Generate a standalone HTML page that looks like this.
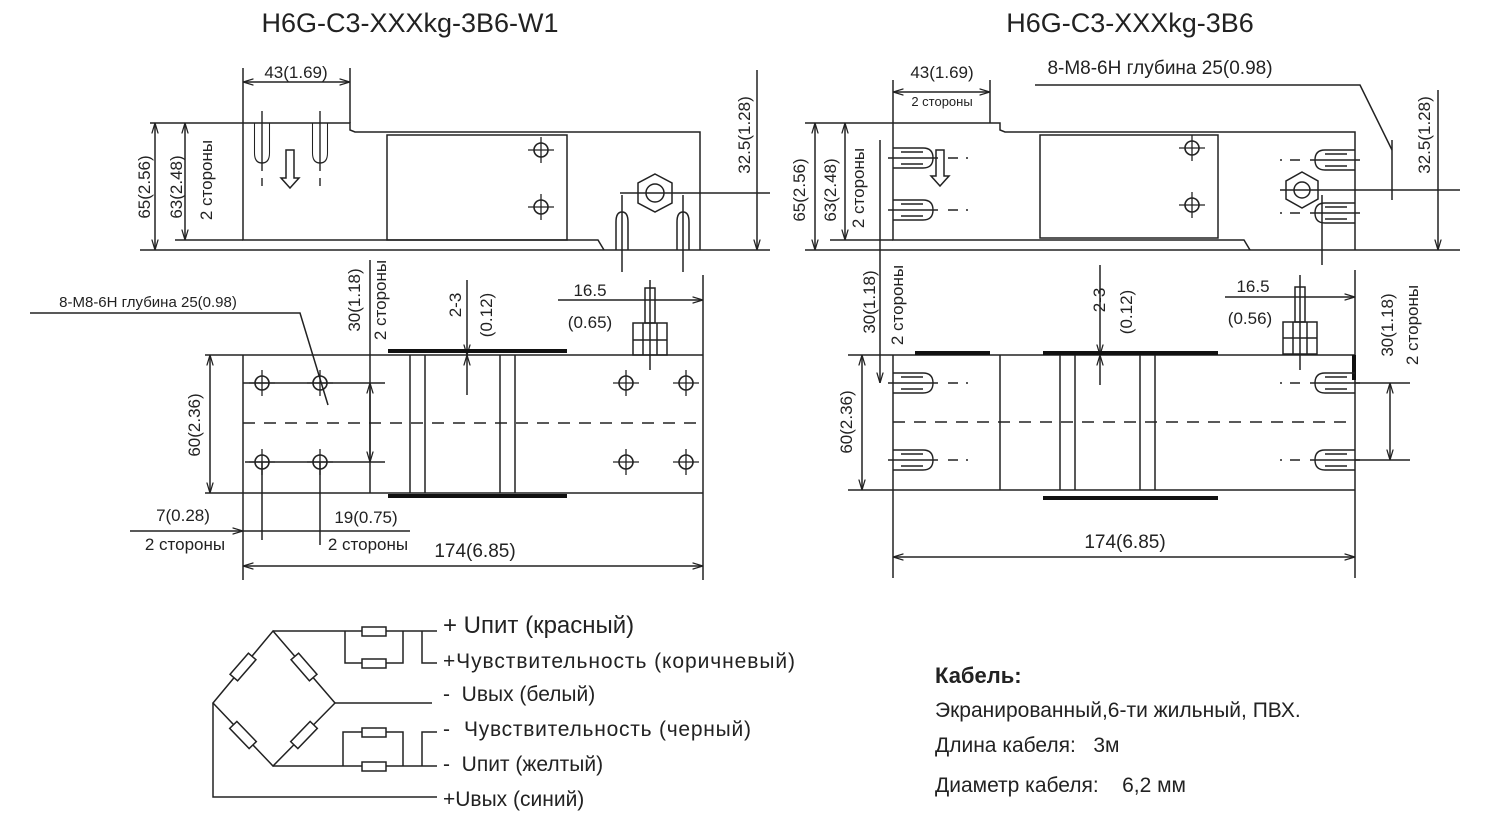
<!DOCTYPE html>
<html><head><meta charset="utf-8"><style>
html,body{margin:0;padding:0;background:#fff;}
svg{display:block;font-family:"Liberation Sans",sans-serif;}
text{white-space:pre;}
</style></head><body>
<svg width="1498" height="824" viewBox="0 0 1498 824" xmlns="http://www.w3.org/2000/svg" xml:space="preserve">
<defs>
<marker id="a" viewBox="0 0 10 10" refX="10" refY="5" markerWidth="7" markerHeight="7" orient="auto-start-reverse"><path d="M0,2 L10,5 L0,8" fill="none" stroke="#222" stroke-width="1.2"/></marker>
<g id="hole"><circle r="7" fill="none" stroke="#222" stroke-width="1.6"/><line x1="-13" y1="0" x2="13" y2="0" stroke="#222" stroke-width="1.3"/><line x1="0" y1="-13" x2="0" y2="13" stroke="#222" stroke-width="1.3"/></g>
<g id="boltH" fill="none" stroke="#222" stroke-width="1.4"><path d="M0,-10 H30 Q40,-10 40,0 Q40,10 30,10 H0"/><line x1="8" y1="-6" x2="30" y2="-6"/><line x1="8" y1="6" x2="30" y2="6"/><line x1="-5" y1="0" x2="45" y2="0"/><line x1="55" y1="0" x2="75" y2="0" stroke-dasharray="10 8"/></g>
<g id="boltV" fill="none" stroke="#222" stroke-width="1.4"><path d="M-10,0 V30 Q-10,40 0,40 Q10,40 10,30 V0" transform="scale(0.75,1)"/><line x1="0" y1="-12" x2="0" y2="48"/><line x1="0" y1="55" x2="0" y2="70" stroke-dasharray="8 8"/></g>
</defs>
<g fill="#222" font-size="27"><text x="410" y="32" text-anchor="middle">H6G-C3-XXXkg-3B6-W1</text><text x="1130" y="32" text-anchor="middle">H6G-C3-XXXkg-3B6</text></g>

<g fill="none" stroke="#222" stroke-width="1.5">
<path d="M150,123 H350 V130 L355,132 H700 V250"/>
<line x1="140" y1="250" x2="770" y2="250"/>
<path d="M243,123 V240 H598 L604,250"/>
<line x1="175" y1="240" x2="243" y2="240"/>
<rect x="387" y="135" width="180" height="105"/>
<line x1="243" y1="68" x2="243" y2="123"/><line x1="350" y1="68" x2="350" y2="123"/>
<line x1="243" y1="82" x2="350" y2="82" marker-start="url(#a)" marker-end="url(#a)"/>
<line x1="155" y1="123" x2="155" y2="250" marker-start="url(#a)" marker-end="url(#a)"/>
<line x1="185" y1="123" x2="185" y2="240" marker-start="url(#a)" marker-end="url(#a)"/>
<line x1="757" y1="70" x2="757" y2="250" marker-end="url(#a)"/>
<line x1="620" y1="193" x2="770" y2="193"/>
<polygon points="655,174 672,183 672,203 655,212 638,203 638,183"/><circle cx="655" cy="193" r="9"/>
<path d="M286,150 V178 H281 L290,188 L299,178 H294 V150 Z"/>
<line x1="622" y1="195" x2="622" y2="272"/><line x1="683" y1="195" x2="683" y2="272"/>
<path d="M616,250 V222 Q616,212 622,212 Q628,212 628,222 V250"/><path d="M677,250 V222 Q677,212 683,212 Q689,212 689,222 V250"/>
</g>
<use href="#boltV" x="262" y="123"/><use href="#boltV" x="320" y="123"/>
<use href="#hole" x="541" y="150"/><use href="#hole" x="541" y="207"/>

<g fill="none" stroke="#222" stroke-width="1.5">
<line x1="205" y1="355" x2="703" y2="355"/><line x1="205" y1="493" x2="703" y2="493"/>
<line x1="243" y1="355" x2="243" y2="580"/><line x1="703" y1="275" x2="703" y2="580"/>
<line x1="370" y1="260" x2="370" y2="493"/>
<line x1="410" y1="355" x2="410" y2="493"/><line x1="425" y1="355" x2="425" y2="493"/>
<line x1="500" y1="355" x2="500" y2="493"/><line x1="515" y1="355" x2="515" y2="493"/>
<line x1="243" y1="423" x2="703" y2="423" stroke-dasharray="12 9"/>
<line x1="243" y1="383" x2="385" y2="383"/><line x1="245" y1="462" x2="385" y2="462"/>
<line x1="370" y1="383" x2="370" y2="462" marker-start="url(#a)" marker-end="url(#a)"/>
<line x1="210" y1="355" x2="210" y2="493" marker-start="url(#a)" marker-end="url(#a)"/>
<line x1="467" y1="280" x2="467" y2="355" marker-end="url(#a)"/><line x1="467" y1="395" x2="467" y2="355" marker-end="url(#a)"/>
<line x1="558" y1="300" x2="703" y2="300" marker-end="url(#a)"/>
<line x1="650" y1="280" x2="650" y2="370"/>
<rect x="645" y="288" width="10" height="35"/><rect x="633" y="323" width="34" height="32"/><line x1="633" y1="340" x2="667" y2="340"/><line x1="643" y1="323" x2="643" y2="355"/><line x1="657" y1="323" x2="657" y2="355"/>
<line x1="262" y1="462" x2="262" y2="540"/><line x1="320" y1="462" x2="320" y2="545"/>
<line x1="130" y1="531" x2="243" y2="531" marker-end="url(#a)"/>
<line x1="243" y1="531" x2="410" y2="531"/>
<line x1="243" y1="566" x2="703" y2="566" marker-start="url(#a)" marker-end="url(#a)"/>
<path d="M30,313 H300 L328,405"/>
</g>
<g stroke="#111" stroke-width="4"><line x1="388" y1="351" x2="567" y2="351"/><line x1="388" y1="496" x2="567" y2="496"/></g>
<use href="#hole" x="262" y="383"/><use href="#hole" x="320" y="383"/><use href="#hole" x="262" y="462"/><use href="#hole" x="320" y="462"/>
<use href="#hole" x="626" y="383"/><use href="#hole" x="686" y="383"/><use href="#hole" x="626" y="462"/><use href="#hole" x="686" y="462"/>

<g fill="none" stroke="#222" stroke-width="1.5">
<path d="M805,123 H1000 V130 L1005,132 H1355 V250"/>
<line x1="805" y1="250" x2="1460" y2="250"/>
<path d="M893,123 V240 H1244 L1250,250"/>
<line x1="830" y1="240" x2="893" y2="240"/>
<rect x="1040" y="135" width="178" height="103"/>
<line x1="893" y1="80" x2="893" y2="123"/><line x1="990" y1="80" x2="990" y2="123"/>
<line x1="893" y1="92" x2="990" y2="92" marker-start="url(#a)" marker-end="url(#a)"/>
<line x1="815" y1="123" x2="815" y2="250" marker-start="url(#a)" marker-end="url(#a)"/>
<line x1="845" y1="123" x2="845" y2="240" marker-start="url(#a)" marker-end="url(#a)"/>
<line x1="1438" y1="90" x2="1438" y2="250" marker-end="url(#a)"/>
<line x1="1280" y1="190" x2="1460" y2="190"/>
<polygon points="1302,172 1318,181 1318,199 1302,208 1286,199 1286,181"/><circle cx="1302" cy="190" r="8"/>
<path d="M936,150 V176 H931 L940,186 L949,176 H944 V150 Z"/>
<path d="M1035,85 H1360 L1392,150"/>
<line x1="1392" y1="140" x2="1392" y2="200"/>
<line x1="1322" y1="195" x2="1322" y2="265"/>
<line x1="880" y1="140" x2="880" y2="383" marker-end="url(#a)"/>
</g>
<use href="#boltH" x="893" y="158"/><use href="#boltH" x="893" y="210"/>
<use href="#boltH" x="1355" y="160" transform="translate(2710,0) scale(-1,1)"/>
<use href="#boltH" x="1355" y="213" transform="translate(2710,0) scale(-1,1)"/>
<use href="#hole" x="1192" y="148"/><use href="#hole" x="1192" y="205"/>

<g fill="none" stroke="#222" stroke-width="1.5">
<line x1="848" y1="355" x2="1355" y2="355"/><line x1="848" y1="490" x2="1355" y2="490"/>
<line x1="893" y1="355" x2="893" y2="578"/><line x1="1355" y1="270" x2="1355" y2="578"/>
<line x1="1000" y1="355" x2="1000" y2="490"/>
<line x1="1060" y1="355" x2="1060" y2="490"/><line x1="1075" y1="355" x2="1075" y2="490"/>
<line x1="1140" y1="355" x2="1140" y2="490"/><line x1="1155" y1="355" x2="1155" y2="490"/>
<line x1="893" y1="422" x2="1355" y2="422" stroke-dasharray="12 9"/>
<line x1="862" y1="355" x2="862" y2="490" marker-start="url(#a)" marker-end="url(#a)"/>
<line x1="1100" y1="265" x2="1100" y2="355" marker-end="url(#a)"/><line x1="1100" y1="385" x2="1100" y2="355" marker-end="url(#a)"/>
<line x1="1225" y1="297" x2="1355" y2="297" marker-end="url(#a)"/>
<line x1="1300" y1="275" x2="1300" y2="370"/>
<rect x="1295" y="287" width="10" height="35"/><rect x="1283" y="322" width="34" height="32"/><line x1="1283" y1="338" x2="1317" y2="338"/><line x1="1293" y1="322" x2="1293" y2="354"/><line x1="1307" y1="322" x2="1307" y2="354"/>
<line x1="1390" y1="383" x2="1390" y2="460" marker-start="url(#a)" marker-end="url(#a)"/>
<line x1="1355" y1="383" x2="1410" y2="383"/><line x1="1355" y1="460" x2="1410" y2="460"/>
<line x1="893" y1="557" x2="1355" y2="557" marker-start="url(#a)" marker-end="url(#a)"/>
</g>
<g stroke="#111" stroke-width="4"><line x1="915" y1="353" x2="990" y2="353"/><line x1="1043" y1="353" x2="1218" y2="353"/><line x1="1043" y1="498" x2="1218" y2="498"/><line x1="1354" y1="355" x2="1354" y2="380"/></g>
<use href="#boltH" x="893" y="383"/><use href="#boltH" x="893" y="460"/>
<use href="#boltH" x="1355" y="383" transform="translate(2710,0) scale(-1,1)"/>
<use href="#boltH" x="1355" y="460" transform="translate(2710,0) scale(-1,1)"/>

<g fill="#222" font-size="17">
<text x="296" y="78" text-anchor="middle">43(1.69)</text>
<text x="942" y="78" text-anchor="middle">43(1.69)</text>
<text x="942" y="106" text-anchor="middle" font-size="13">2 стороны</text>
<text x="1160" y="74" text-anchor="middle" font-size="19">8-M8-6H глубина 25(0.98)</text>
<text x="148" y="307" text-anchor="middle" font-size="15">8-M8-6H глубина 25(0.98)</text>
<text x="590" y="296" text-anchor="middle">16.5</text><text x="590" y="328" text-anchor="middle">(0.65)</text>
<text x="1253" y="292" text-anchor="middle">16.5</text><text x="1250" y="324" text-anchor="middle">(0.56)</text>
<text x="183" y="521" text-anchor="middle">7(0.28)</text>
<text x="185" y="550" text-anchor="middle">2 стороны</text>
<text x="366" y="523" text-anchor="middle">19(0.75)</text>
<text x="368" y="550" text-anchor="middle">2 стороны</text>
<text x="475" y="557" text-anchor="middle" font-size="19">174(6.85)</text>
<text x="1125" y="548" text-anchor="middle" font-size="19">174(6.85)</text>
<text transform="translate(150,187) rotate(-90)" text-anchor="middle">65(2.56)</text>
<text transform="translate(182,187) rotate(-90)" text-anchor="middle">63(2.48)</text>
<text transform="translate(212,180) rotate(-90)" text-anchor="middle">2 стороны</text>
<text transform="translate(750,135) rotate(-90)" text-anchor="middle">32.5(1.28)</text>
<text transform="translate(360,300) rotate(-90)" text-anchor="middle">30(1.18)</text>
<text transform="translate(386,300) rotate(-90)" text-anchor="middle">2 стороны</text>
<text transform="translate(461,305) rotate(-90)" text-anchor="middle">2-3</text>
<text transform="translate(492,315) rotate(-90)" text-anchor="middle">(0.12)</text>
<text transform="translate(200,425) rotate(-90)" text-anchor="middle">60(2.36)</text>
<text transform="translate(805,190) rotate(-90)" text-anchor="middle">65(2.56)</text>
<text transform="translate(836,190) rotate(-90)" text-anchor="middle">63(2.48)</text>
<text transform="translate(864,188) rotate(-90)" text-anchor="middle">2 стороны</text>
<text transform="translate(1430,135) rotate(-90)" text-anchor="middle">32.5(1.28)</text>
<text transform="translate(875,302) rotate(-90)" text-anchor="middle">30(1.18)</text>
<text transform="translate(903,305) rotate(-90)" text-anchor="middle">2 стороны</text>
<text transform="translate(1105,300) rotate(-90)" text-anchor="middle">2-3</text>
<text transform="translate(1132,312) rotate(-90)" text-anchor="middle">(0.12)</text>
<text transform="translate(852,422) rotate(-90)" text-anchor="middle">60(2.36)</text>
<text transform="translate(1393,325) rotate(-90)" text-anchor="middle">30(1.18)</text>
<text transform="translate(1418,325) rotate(-90)" text-anchor="middle">2 стороны</text>
</g>

<g fill="none" stroke="#222" stroke-width="1.5">
<polygon points="273,631 335,703 273,766 213,703"/>
<path d="M273,631 H437"/>
<path d="M345,631 V663 H403 V631"/>
<path d="M422,631 V663 H437"/>
<path d="M335,703 H432"/>
<path d="M273,766 H437"/>
<path d="M343,766 V732 H403 V766"/>
<path d="M437,732 H422 V766"/>
<path d="M213,703 V797 H437"/>
</g>
<g fill="#fff" stroke="#222" stroke-width="1.5">
<rect x="362" y="627" width="24" height="9"/><rect x="362" y="659" width="24" height="9"/>
<rect x="362" y="728" width="24" height="9"/><rect x="362" y="762" width="24" height="9"/>
<rect x="-14" y="-5" width="28" height="10" transform="translate(243,667) rotate(-49)"/>
<rect x="-14" y="-5" width="28" height="10" transform="translate(304,667) rotate(49)"/>
<rect x="-14" y="-5" width="28" height="10" transform="translate(243,735) rotate(46)"/>
<rect x="-14" y="-5" width="28" height="10" transform="translate(304,735) rotate(-46)"/>
</g>
<g fill="#222" font-size="21">
<text x="443" y="633" font-size="24">+ Uпит (красный)</text>
<text x="443" y="668" textLength="352">+Чувствительность (коричневый)</text>
<text x="443" y="701">-  Uвых (белый)</text>
<text x="443" y="736" textLength="308">-  Чувствительность (черный)</text>
<text x="443" y="771">-  Uпит (желтый)</text>
<text x="443" y="806">+Uвых (синий)</text>
<text x="935" y="683" font-weight="bold" font-size="22">Кабель:</text>
<text x="935" y="717">Экранированный,6-ти жильный, ПВХ.</text>
<text x="935" y="752">Длина кабеля:   3м</text>
<text x="935" y="792">Диаметр кабеля:    6,2 мм</text>
</g>
</svg>
</body></html>
